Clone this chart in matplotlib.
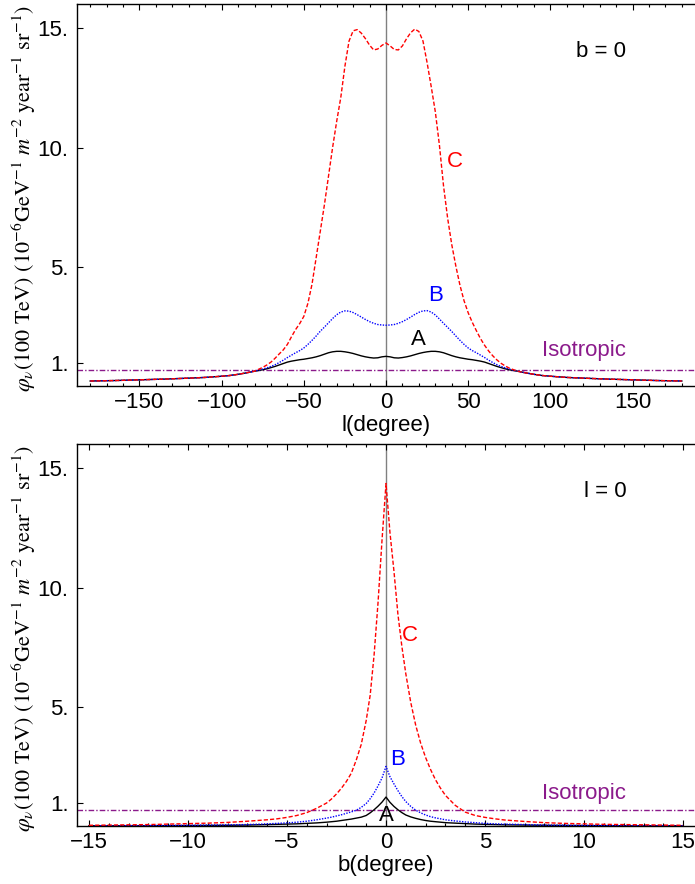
import matplotlib
matplotlib.use("Agg")
import matplotlib.pyplot as plt
from matplotlib.ticker import FixedLocator, MultipleLocator, FixedFormatter

plt.rcParams['font.family'] = ['Liberation Sans', 'DejaVu Sans']
plt.rcParams['mathtext.fontset'] = 'stix'

# ---------------- data: top panel (b = 0) ----------------
l_deg = [-180, -165, -150, -135, -120, -110, -100, -95, -90, -85, -80,
         -75, -72.5, -70, -67.5, -65, -62.5, -60, -57.5, -55, -52.5, -50, -47.5, -45, -42.5, -40,
         -37.5, -35, -32.5, -30, -27.5, -25, -22.5, -20, -17.5, -15, -12.5, -10, -7.5, -5, -2.5,
         0, 2.5, 5, 7.5, 10, 12.5, 15, 17.5, 20, 22.5, 25, 27.5, 30, 32.5, 35, 37.5, 40,
         42.5, 45, 47.5, 50, 52.5, 55, 57.5, 60, 62.5, 65, 67.5, 70, 72.5, 75,
         80, 85, 90, 95, 100, 110, 120, 135, 150, 165, 180]
C_l = [0.25, 0.27, 0.30, 0.33, 0.37, 0.40, 0.45, 0.48, 0.53, 0.59, 0.66,
       0.82, 0.92, 1.04, 1.20, 1.38, 1.55, 1.78, 2.10, 2.40, 2.65, 2.95, 3.50, 4.30, 5.40, 6.50,
       7.60, 8.80, 10.00, 11.10, 12.10, 13.40, 14.45, 14.88, 14.93, 14.78, 14.55, 14.28, 14.08, 14.12, 14.27,
       14.37, 14.25, 14.10, 14.08, 14.25, 14.55, 14.80, 14.95, 14.85, 14.45, 13.55, 12.55, 11.50, 10.10, 8.40, 7.05, 5.95,
       5.05, 4.25, 3.60, 3.10, 2.70, 2.35, 2.02, 1.74, 1.50, 1.30, 1.13, 0.99, 0.88, 0.79,
       0.66, 0.59, 0.53, 0.48, 0.45, 0.40, 0.37, 0.33, 0.30, 0.27, 0.25]
B_l = [0.25, 0.27, 0.30, 0.33, 0.37, 0.40, 0.45, 0.48, 0.53, 0.59, 0.66,
       0.75, 0.80, 0.86, 0.93, 1.02, 1.12, 1.23, 1.33, 1.43, 1.52, 1.63, 1.78, 1.95, 2.13, 2.33,
       2.50, 2.68, 2.86, 3.02, 3.13, 3.18, 3.17, 3.11, 3.02, 2.92, 2.82, 2.73, 2.66, 2.61, 2.59,
       2.58, 2.59, 2.61, 2.66, 2.73, 2.82, 2.92, 3.03, 3.12, 3.18, 3.19, 3.13, 3.01, 2.84, 2.66, 2.49, 2.32,
       2.13, 1.95, 1.78, 1.63, 1.52, 1.43, 1.33, 1.23, 1.12, 1.02, 0.93, 0.86, 0.80, 0.75,
       0.66, 0.59, 0.53, 0.48, 0.45, 0.40, 0.37, 0.33, 0.30, 0.27, 0.25]
A_l = [0.25, 0.27, 0.30, 0.33, 0.37, 0.40, 0.45, 0.48, 0.53, 0.59, 0.66,
       0.72, 0.76, 0.81, 0.86, 0.92, 0.98, 1.04, 1.08, 1.11, 1.14, 1.16, 1.19, 1.22, 1.26, 1.31,
       1.37, 1.43, 1.47, 1.49, 1.49, 1.47, 1.44, 1.40, 1.35, 1.30, 1.26, 1.23, 1.21, 1.22, 1.26,
       1.28, 1.26, 1.22, 1.21, 1.23, 1.26, 1.30, 1.35, 1.40, 1.44, 1.47, 1.49, 1.49, 1.47, 1.43, 1.37, 1.31,
       1.26, 1.22, 1.19, 1.16, 1.14, 1.11, 1.08, 1.04, 0.98, 0.92, 0.86, 0.81, 0.76, 0.72,
       0.66, 0.59, 0.53, 0.48, 0.45, 0.40, 0.37, 0.33, 0.30, 0.27, 0.25]

# ---------------- data: bottom panel (l = 0) ----------------
b_deg = [-15, -14, -13, -12, -11, -10, -9, -8, -7, -6, -5.5, -5, -4.5, -4, -3.5, -3, -2.75, -2.5,
         -2.25, -2, -1.75, -1.5, -1.25, -1, -0.8, -0.6, -0.4, -0.2,
         0,
         0.2, 0.4, 0.6, 0.8, 1, 1.25, 1.5, 1.75, 2, 2.25, 2.5, 2.75, 3, 3.5, 4, 4.5, 5, 5.5,
         6, 7, 8, 9, 10, 11, 12, 13, 14, 15]
C_b = [0.07, 0.08, 0.09, 0.10, 0.12, 0.14, 0.16, 0.19, 0.24, 0.30, 0.34, 0.40, 0.48, 0.60, 0.78, 1.00, 1.17, 1.38,
       1.62, 1.90, 2.25, 2.80, 3.45, 4.45, 5.50, 7.20, 9.40, 12.00,
       14.35,
       12.30, 10.70, 8.90, 7.55, 6.40, 5.20, 4.25, 3.50, 2.90, 2.40, 1.97, 1.62, 1.32, 0.90, 0.62, 0.48, 0.40, 0.34,
       0.29, 0.23, 0.18, 0.15, 0.13, 0.11, 0.10, 0.09, 0.08, 0.07]
B_b = [0.05, 0.05, 0.055, 0.06, 0.065, 0.07, 0.08, 0.09, 0.10, 0.13, 0.15, 0.17, 0.20, 0.24, 0.30, 0.37, 0.41, 0.46,
       0.51, 0.57, 0.63, 0.70, 0.82, 0.98, 1.18, 1.42, 1.72, 2.05,
       2.53,
       2.10, 1.80, 1.52, 1.27, 1.06, 0.86, 0.70, 0.59, 0.50, 0.43, 0.38, 0.34, 0.30, 0.25, 0.21, 0.18, 0.15, 0.13,
       0.12, 0.10, 0.08, 0.07, 0.065, 0.06, 0.055, 0.05, 0.05, 0.05]
A_b = [0.05, 0.05, 0.05, 0.05, 0.055, 0.06, 0.065, 0.07, 0.08, 0.10, 0.11, 0.12, 0.13, 0.15, 0.17, 0.20, 0.22, 0.24,
       0.27, 0.30, 0.33, 0.37, 0.41, 0.48, 0.59, 0.72, 0.87, 1.04,
       1.25,
       1.03, 0.86, 0.72, 0.60, 0.50, 0.42, 0.36, 0.31, 0.27, 0.24, 0.22, 0.20, 0.18, 0.16, 0.14, 0.12, 0.11, 0.10,
       0.09, 0.08, 0.07, 0.065, 0.06, 0.055, 0.05, 0.05, 0.05, 0.05]

isotropic = 0.71

y_ticks = [1, 5, 10, 15]
y_ticklabels = ["1.", "5.", "10.", "15."]
l_ticks = [-150, -100, -50, 0, 50, 100, 150]
l_ticklabels = ["\u2212150", "\u2212100", "\u221250", "0", "50", "100", "150"]
b_ticks = [-15, -10, -5, 0, 5, 10, 15]
b_ticklabels = ["\u221215", "\u221210", "\u22125", "0", "5", "10", "15"]

ylabel = (r'$\varphi_\nu(100\ \mathrm{TeV})\ (10^{-6}\mathrm{GeV}^{-1}\ m^{-2}\ '
          r'\mathrm{year}^{-1}\ \mathrm{sr}^{-1})$')

purple = '#8B1A8B'
fs = 16

fig = plt.figure(figsize=(6.95, 8.84), dpi=100)
ax1 = fig.add_axes([0.1108, 0.5633, 0.8892, 0.4322])
ax2 = fig.add_axes([0.1108, 0.0656, 0.8892, 0.4321])


def style(ax, xt, xtl, minor, xlim, xlabel):
    ax.set_xlim(*xlim)
    ax.set_ylim(0.04, 16.0)
    ax.xaxis.set_major_locator(FixedLocator(xt))
    ax.xaxis.set_major_formatter(FixedFormatter(xtl))
    ax.xaxis.set_minor_locator(MultipleLocator(minor))
    ax.yaxis.set_major_locator(FixedLocator(y_ticks))
    ax.yaxis.set_major_formatter(FixedFormatter(y_ticklabels))
    ax.tick_params(which='both', direction='in', top=True, right=False, labelsize=fs,
                   width=0.8)
    ax.tick_params(axis='x', pad=4)
    ax.tick_params(axis='y', pad=6)
    ax.tick_params(which='major', length=4)
    ax.tick_params(which='minor', length=2.5)
    ax.spines['right'].set_visible(False)
    for s in ['left', 'bottom', 'top']:
        ax.spines[s].set_linewidth(1.0)
    ax.set_xlabel(xlabel, fontsize=fs, labelpad=2)
    ax.set_ylabel(ylabel, fontsize=16)
    ax.yaxis.set_label_coords(-0.063, 0.49)
    ax.axvline(0, color='#808080', lw=1.0, zorder=1)
    ax.axhline(isotropic, color=purple, lw=1.0, ls=(0, (4, 1.5, 1, 1.5)), zorder=2)


style(ax1, l_ticks, l_ticklabels, 10, (-188, 188), 'l(degree)')
ax1.plot(l_deg, A_l, color='black', lw=1.0, zorder=3)
ax1.plot(l_deg, B_l, color='#0000FF', lw=1.0, ls=(0, (1, 1)), zorder=3)
ax1.plot(l_deg, C_l, color='#FF0000', lw=1.0, ls=(0, (3, 1.5)), zorder=4)
ax1.text(41.7, 9.4, 'C', color='#FF0000', fontsize=fs, ha='center', va='center')
ax1.text(30, 3.83, 'B', color='#0000FF', fontsize=fs, ha='center', va='center')
ax1.text(19.9, 1.98, 'A', color='black', fontsize=fs, ha='center', va='center')
ax1.text(120.7, 1.53, 'Isotropic', color=purple, fontsize=fs, ha='center', va='center')
ax1.text(130.8, 14.0, 'b = 0', color='black', fontsize=fs, ha='center', va='center')

style(ax2, b_ticks, b_ticklabels, 1, (-15.6, 15.6), 'b(degree)')
ax2.plot(b_deg, A_b, color='black', lw=1.0, zorder=3)
ax2.plot(b_deg, B_b, color='#0000FF', lw=1.0, ls=(0, (1, 1)), zorder=3)
ax2.plot(b_deg, C_b, color='#FF0000', lw=1.0, ls=(0, (3, 1.5)), zorder=4)
ax2.text(1.2, 8.0, 'C', color='#FF0000', fontsize=fs, ha='center', va='center')
ax2.text(0.56, 2.81, 'B', color='#0000FF', fontsize=fs, ha='center', va='center')
ax2.text(0.0, 0.49, 'A', color='black', fontsize=fs, ha='center', va='center')
ax2.text(10.0, 1.39, 'Isotropic', color=purple, fontsize=fs, ha='center', va='center')
ax2.text(11.05, 14.0, 'l = 0', color='black', fontsize=fs, ha='center', va='center')

fig.savefig('out.png', dpi=100)
